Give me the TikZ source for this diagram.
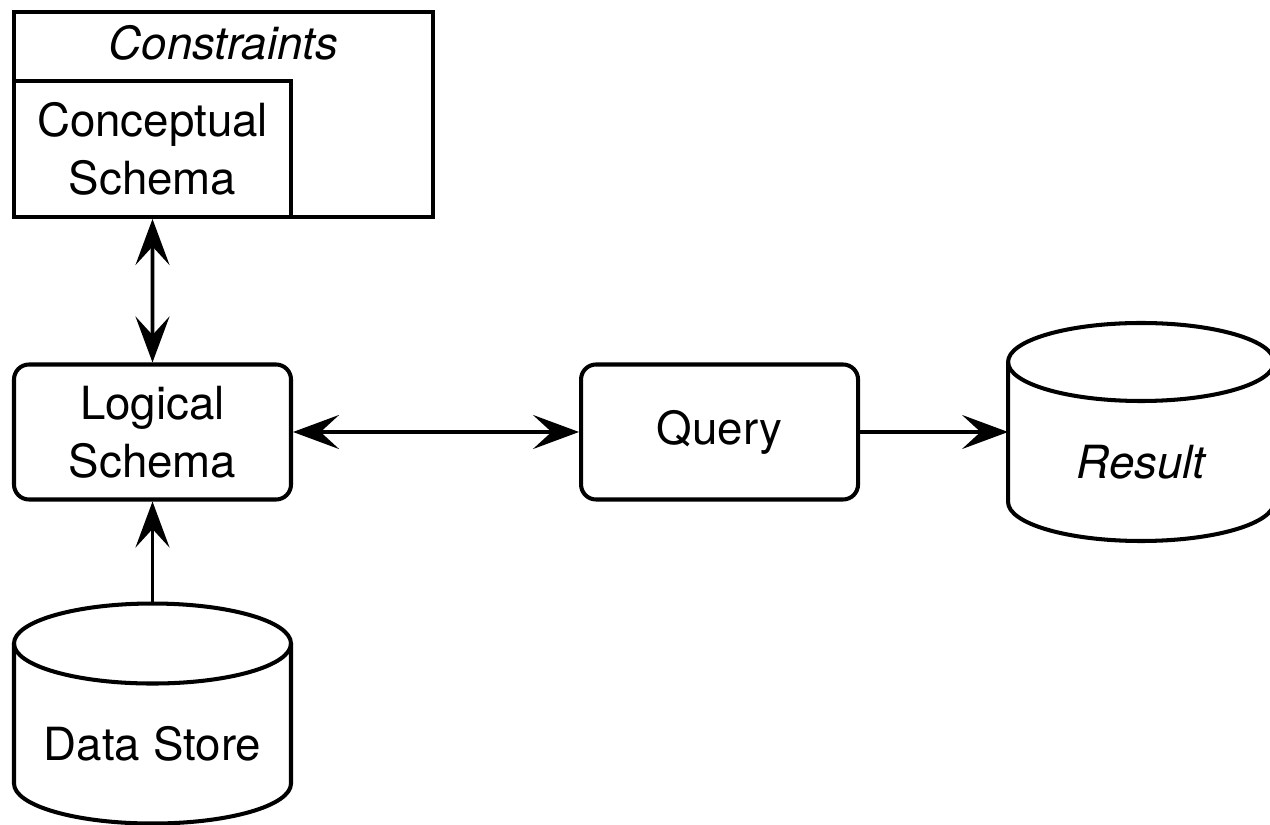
\documentclass[tikz,border=0pt]{standalone}
\usepackage{fontspec}
\setmainfont{TeX Gyre Heros}
\usetikzlibrary{arrows.meta, positioning}
\tikzset{
    % Big sans text everywhere
    every node/.style={font=\fontsize{26}{33}\selectfont},
    % Sharp box style
    frame/.style={
        rectangle,
        draw=black,
        fill=white,
        line width=2.3pt,
        align=center
    },
    % Rounded schema box style
    schema/.style={
        rectangle,
        rounded corners=0.3cm,
        draw=black,
        fill=white,
        line width=2.3pt,
        minimum width=5.54cm,
        minimum height=2.7cm,
        align=center
    },
    % Store (cylinder) body, outline drawn by \drawstore
    store/.style={
        rectangle,
        outer sep=0pt,
        inner sep=0pt
    },
    % Italic label
    tag/.style={font=\fontsize{26}{33}\selectfont\itshape},
    % Arrow style
    link/.style={
        line width=2pt,
        >={Stealth[length=0.92cm, width=0.68cm, inset=0.37cm]}
    }
}
% cylinder outline: node name, x radius, y radius
\newcommand{\drawstore}[3]{%
    \draw [line width=2.3pt, fill=white] ([yshift=-#3]#1.north west)
        -- ([yshift=#3]#1.south west)
        arc [start angle=180, end angle=360, x radius=#2, y radius=#3]
        -- ([yshift=-#3]#1.north east);
    \draw [line width=2.3pt] ([yshift=-#3]#1.north) ellipse [x radius=#2, y radius=#3];
}

\begin{document}
\begin{tikzpicture}
    \useasboundingbox (0,0) rectangle (25.4,16.48);

    % Constraints around the conceptual schema
    \node (constraints) [frame, minimum width=8.38cm, minimum height=4.1cm] at (4.47,14.19) {};
    \node (constraintsText) [tag] at ([yshift=-0.66cm]constraints.north) {Constraints};
    \node (concept) [frame, minimum width=5.54cm, minimum height=2.72cm, anchor=south west]
        at (constraints.south west) {Conceptual\\Schema};

    \node (logical) [schema] at (3.05,7.84) {Logical\\Schema};
    \node (query) [schema, right=5.72cm of logical] {Query};

    % Stores
    \node (data) [store, minimum width=5.54cm, minimum height=4.4cm, below=2.04cm of logical] {};
    \drawstore{data}{2.77cm}{0.8cm}
    \node (dataText) at ([yshift=-0.6cm]data.center) {Data Store};

    \node (result) [store, minimum width=5.32cm, minimum height=4.36cm, right=2.96cm of query] {};
    \drawstore{result}{2.66cm}{0.78cm}
    \node (resultText) [tag] at ([yshift=-0.6cm]result.center) {Result};

    \draw [link, <->] (concept) -- (logical);
    \draw [link, <->] (logical) -- (query);
    \draw [link, ->] (query) -- (result);
    \draw [link, ->] (data) -- (logical);
\end{tikzpicture}
\end{document}
